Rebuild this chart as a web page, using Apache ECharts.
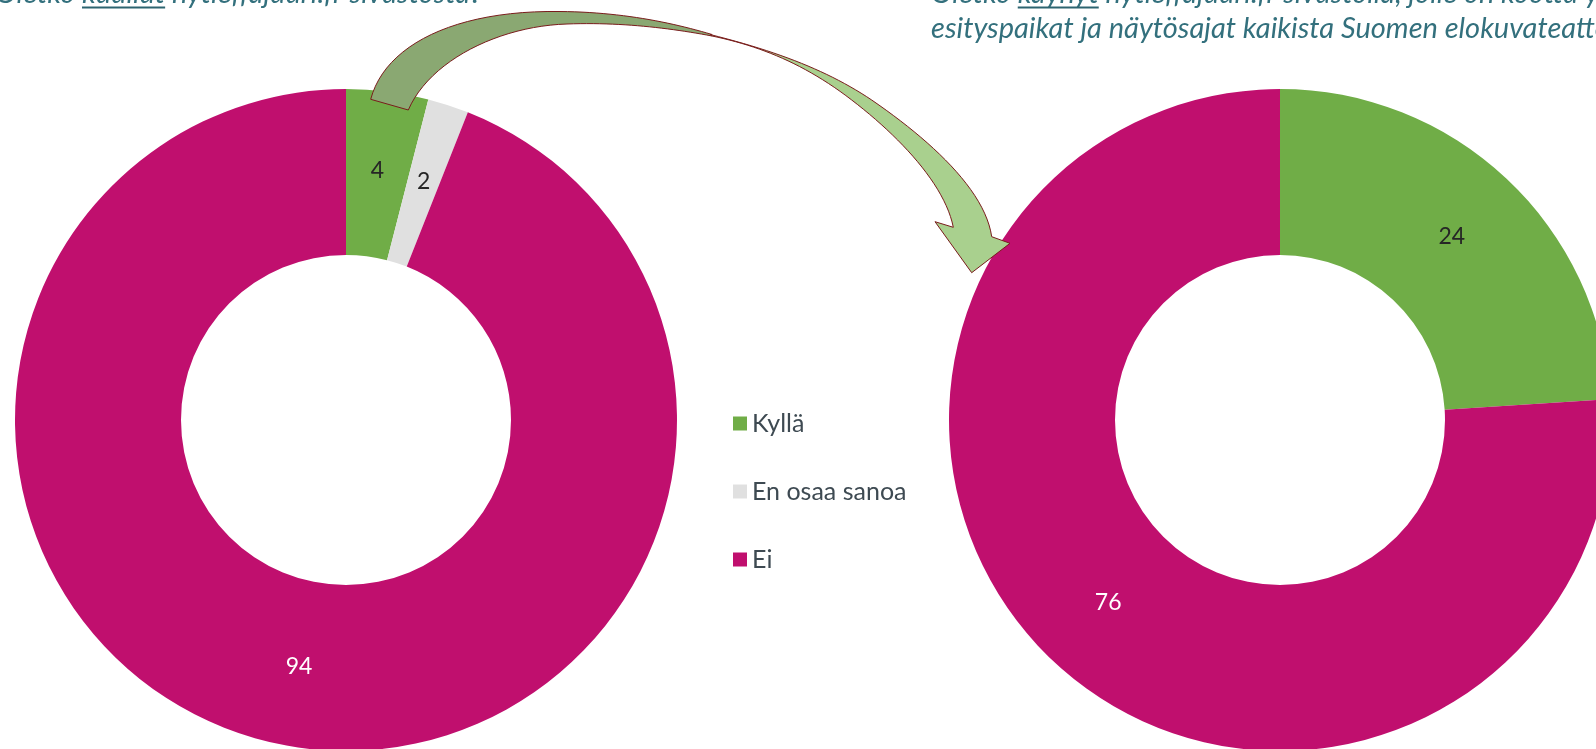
<!DOCTYPE html>
<html>
<head>
<meta charset="utf-8">
<title>Nytleffajuuri</title>
<script src="https://cdn.jsdelivr.net/npm/echarts@6/dist/echarts.min.js"></script>
<style>
  html, body { margin: 0; padding: 0; background: #ffffff; }
  #chart { width: 1596px; height: 749px; }
</style>
</head>
<body>
<div id="chart"></div>
<script>
// Answer categories shared by both donuts
const categories = ['Kyllä', 'En osaa sanoa', 'Ei'];
// Heard of the site (%)
const heardValues = [4, 2, 94];
// Visited the site (%)
const visitedValues = [24, 0, 76];
const colors = ['#70AD47', '#E0E0E0', '#C00F6E'];
const labelColors = ['#262626', '#262626', '#ffffff'];

// Question texts: [before, underlined word, after]
const titleLeft = ['Oletko ', 'kuullut', ' nytleffajuuri.fi-sivustosta?'];
const titleRight1 = ['Oletko ', 'käynyt', ' nytleffajuuri.fi-sivustolla, jolle on koottu yhteen'];
const titleRight2 = 'esityspaikat ja näytösajat kaikista Suomen elokuvateattereista?';

const chart = echarts.init(document.getElementById('chart'), null, { renderer: 'canvas' });

function pieData(values) {
  return categories.map((name, i) => ({
    name,
    value: values[i],
    itemStyle: { color: colors[i] },
    label: { show: values[i] > 0, color: labelColors[i] }
  }));
}

// Sample a chain of cubic bezier segments into polygon points
function sampleBeziers(start, segs, steps) {
  const pts = [start.slice()];
  let p0 = start;
  segs.forEach(seg => {
    if (seg.length === 1) { pts.push(seg[0]); p0 = seg[0]; return; }
    const [c1, c2, p3] = seg;
    for (let k = 1; k <= steps; k++) {
      const t = k / steps, u = 1 - t;
      pts.push([
        u*u*u*p0[0] + 3*u*u*t*c1[0] + 3*u*t*t*c2[0] + t*t*t*p3[0],
        u*u*u*p0[1] + 3*u*u*t*c1[1] + 3*u*t*t*c2[1] + t*t*t*p3[1]
      ]);
    }
    p0 = p3;
  });
  return pts;
}

// Curved connector arrow: darker back half, lighter front half with head
const arrowBack = sampleBeziers([370.7, 99.3], [
  [[385, 45], [455, 10], [560, 11.5]],
  [[620, 12], [670, 22], [712, 34.5]],
  [[712, 36]],
  [[670, 28], [620, 22], [567, 24]],
  [[500, 26], [430, 60], [408.3, 110]]
], 24);
const arrowFront = sampleBeziers([710, 34.5], [
  [[780, 52], [830, 72], [871.7, 100]],
  [[930, 140], [985, 190], [991.7, 236.7]],
  [[1010, 243.3]],
  [[971.7, 272.7]],
  [[935, 221.7]],
  [[953.3, 227.3]],
  [[945, 185], [900, 137], [851.7, 100]],
  [[805, 64], [760, 46], [712, 36]]
], 24);

const fontFamily = 'Lato, "Open Sans", sans-serif';
const titleFont = 'italic 29px ' + fontFamily;
const titleColor = '#33707D';
const underlineColor = '#2D6470';

// Text widths for placing the underlines
const measureCtx = document.createElement('canvas').getContext('2d');
measureCtx.font = titleFont;
const textWidth = s => measureCtx.measureText(s).width;

const leftUnderlineX = 82;
const leftTitleX = leftUnderlineX - textWidth(titleLeft[0]);
const rightTitleX = 931;
const line1Y = -6;
const line2Y = 29;
const underlineY = 6.5;

const option = {
  animation: false,
  backgroundColor: '#ffffff',
  legend: {
    data: categories,
    orient: 'vertical',
    left: 728,
    top: 406,
    icon: 'rect',
    itemWidth: 14,
    itemHeight: 14,
    itemGap: 43,
    selectedMode: false,
    textStyle: { fontFamily, fontSize: 25, color: '#3E4A52' }
  },
  series: [heardValues, visitedValues].map((values, i) => ({
    type: 'pie',
    center: [i === 0 ? 346 : 1280, 420],
    radius: [165, 331],
    startAngle: 90,
    clockwise: true,
    silent: true,
    label: { position: 'inside', formatter: '{c}', fontFamily, fontSize: 23 },
    labelLine: { show: false },
    data: pieData(values)
  })),
  graphic: [
    { type: 'polygon', z: 100, shape: { points: arrowBack }, style: { fill: '#8AA872', stroke: '#7A1C1C', lineWidth: 1 } },
    { type: 'polygon', z: 100, shape: { points: arrowFront }, style: { fill: '#A9D08E', stroke: '#7A1C1C', lineWidth: 1 } },
    {
      type: 'text', z: 100, x: leftTitleX, y: line1Y,
      style: { text: titleLeft.join(''), font: titleFont, fill: titleColor, textVerticalAlign: 'middle' }
    },
    {
      type: 'rect', z: 100,
      shape: { x: leftUnderlineX, y: underlineY, width: textWidth(titleLeft[1]), height: 2 },
      style: { fill: underlineColor }
    },
    {
      type: 'text', z: 100, x: rightTitleX, y: line1Y,
      style: { text: titleRight1.join(''), font: titleFont, fill: titleColor, textVerticalAlign: 'middle' }
    },
    {
      type: 'rect', z: 100,
      shape: { x: rightTitleX + textWidth(titleRight1[0]), y: underlineY, width: textWidth(titleRight1[1]), height: 2 },
      style: { fill: underlineColor }
    },
    {
      type: 'text', z: 100, x: rightTitleX, y: line2Y,
      style: { text: titleRight2, font: titleFont, fill: titleColor, textVerticalAlign: 'middle' }
    }
  ]
};

chart.setOption(option);
</script>
</body>
</html>
